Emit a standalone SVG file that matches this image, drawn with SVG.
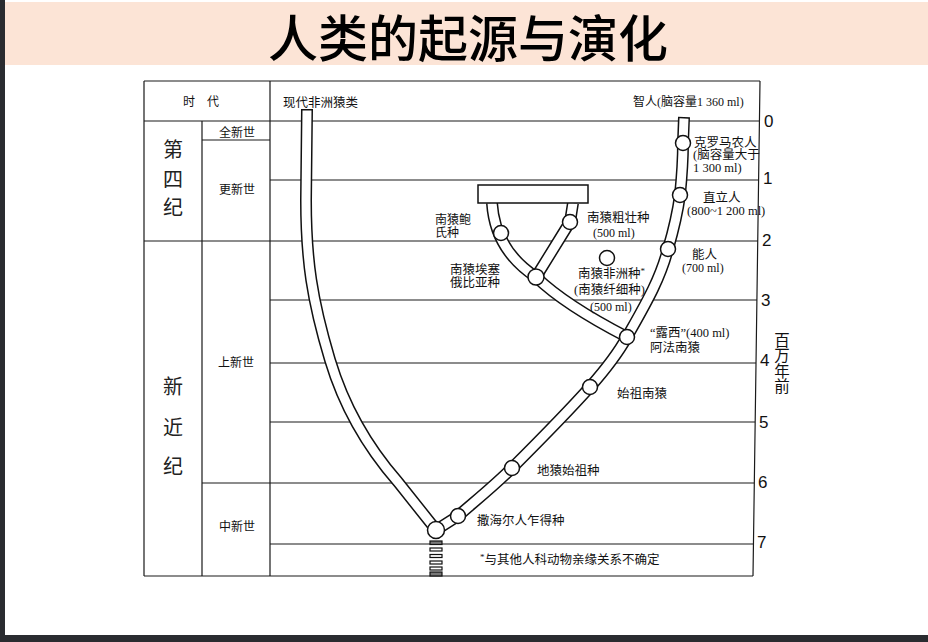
<svg xmlns="http://www.w3.org/2000/svg" width="928" height="642" viewBox="0 0 928 642">
<style>
.g{stroke:#1a1a1a;stroke-width:1.2;fill:none}
.to{fill:none;stroke:#111;stroke-width:12;stroke-linejoin:round}
.ti{fill:none;stroke:#fff;stroke-width:9;stroke-linejoin:round}
.c{fill:#fff;stroke:#111;stroke-width:1.5}
.t{font-family:"Liberation Serif","Noto Sans CJK SC",serif;font-size:12.5px;fill:#111}
.s{font-size:12px}
.b{font-family:"Noto Sans CJK SC",sans-serif;font-size:20px;fill:#222;text-anchor:middle}
.n{font-family:"Liberation Sans",Arial,sans-serif;font-size:17px;fill:#111}
</style>
<rect x="0" y="0" width="928" height="642" fill="#fff"/>
<rect x="0" y="2" width="928" height="63" fill="#fce4d6"/>
<rect x="0" y="0" width="5" height="642" fill="#2a2c30"/>
<rect x="0" y="635" width="928" height="7" fill="#2a2c30"/>
<text x="468" y="57" font-family="Noto Sans CJK SC,sans-serif" font-size="50" font-weight="500" text-anchor="middle" fill="#000">人类的起源与演化</text>

<g id="grid">
<path class="g" d="M144,81H760 M144,81V576 M270,81V576 M202,121V576 M144,121H759.4 M202,140H270 M270,180H758.6 M144,241H757.7 M270,300H756.9 M270,363H756 M270,422H755.2 M202,483H754.3 M270,544H753.5 M144,576H753 M760,81L753,576"/>
</g>

<g id="axis">
<text class="n" x="764" y="127">0</text>
<text class="n" x="763" y="184">1</text>
<text class="n" x="762" y="246">2</text>
<text class="n" x="761" y="306">3</text>
<text class="n" x="760" y="366">4</text>
<text class="n" x="759" y="428">5</text>
<text class="n" x="758" y="488">6</text>
<text class="n" x="757" y="548">7</text>
<text x="782" y="332" writing-mode="vertical-rl" font-family="Noto Sans CJK SC,sans-serif" font-size="15.5" fill="#111">百万年前</text>
</g>

<g id="table-labels">
<text class="t s" x="183" y="106">时<tspan x="207">代</tspan></text>
<text class="t s" x="219" y="137">全新世</text>
<text class="t s" x="219" y="194">更新世</text>
<text class="t s" x="218" y="367">上新世</text>
<text class="t s" x="219" y="531">中新世</text>
<text class="b" x="173" y="157">第</text>
<text class="b" x="173" y="187">四</text>
<text class="b" x="173" y="215">纪</text>
<text class="b" x="173" y="394">新</text>
<text class="b" x="173" y="435">近</text>
<text class="b" x="173" y="474">纪</text>
</g>

<g id="connectors">
<g id="ape-branch">
<path class="to" d="M307,109 L306,200 C306,260 312,300 330,360 C345,410 370,450 398,482 L433,526"/>
<path class="ti" d="M307,110.5 L306,200 C306,260 312,300 330,360 C345,410 370,450 398,482 L433,526"/>
</g>
<g id="human-branch">
<path class="to" d="M436,530 L458,516 C480,497 495,485 512,468 C540,440 565,415 590,387 C605,370 617,355 627,337 C645,305 660,280 668,249 C675,225 678,210 680,195 C682,175 683,160 683,143 L684,117"/>
<path class="ti" d="M436,530 L458,516 C480,497 495,485 512,468 C540,440 565,415 590,387 C605,370 617,355 627,337 C645,305 660,280 668,249 C675,225 678,210 680,195 C682,175 683,160 683,143 L684,118.5"/>
</g>
<g id="robust-branch">
<path class="to" d="M492,203 Q495,250 536,277 Q565,305 627,337 M573,203 L570,222 L536,277"/>
<path class="ti" d="M492,203 Q495,250 536,277 Q565,305 627,337 M573,203 L570,222 L536,277"/>
</g>
<g id="base-bars" fill="#fff" stroke="#111" stroke-width="1.2">
<rect x="430" y="541" width="12" height="3.5" fill="#777"/>
<rect x="430" y="548" width="12" height="3"/>
<rect x="430" y="554.5" width="12" height="3"/>
<rect x="430" y="561" width="12" height="3"/>
<rect x="430" y="567" width="12" height="3"/>
<rect x="430" y="572" width="12" height="4" fill="#777"/>
</g>
</g>

<g id="node-box"><rect x="478" y="185" width="110" height="18" fill="#fff" stroke="#111" stroke-width="1.5"/></g>

<g id="node-common"><circle class="c" cx="436" cy="530" r="8.5"/></g>
<g id="node-sahel"><circle class="c" cx="458" cy="516" r="7.5"/><text class="t" x="477" y="524.5">撒海尔人乍得种</text></g>
<g id="node-ardi"><circle class="c" cx="512" cy="468" r="7.5"/><text class="t" x="537" y="474.5" font-size="13">地猿始祖种</text></g>
<g id="node-anamensis"><circle class="c" cx="590" cy="387" r="7.5"/><text class="t" x="617" y="397.5">始祖南猿</text></g>
<g id="node-afarensis"><circle class="c" cx="627" cy="337" r="7.5"/><text class="t" x="650" y="336.5">“露西”(400 ml)</text><text class="t" x="650" y="351.5">阿法南猿</text></g>
<g id="node-habilis"><circle class="c" cx="668" cy="249" r="7.5"/><text class="t" x="692" y="258.5">能人</text><text class="t s" x="682" y="271.5">(700 ml)</text></g>
<g id="node-erectus"><circle class="c" cx="680" cy="195" r="7.5"/><text class="t" x="703" y="202">直立人</text><text class="t" x="687" y="215" font-size="11">(800~1 200 ml)</text></g>
<g id="node-cromagnon"><circle class="c" cx="683" cy="143" r="7.5"/><text class="t" x="694" y="146.5">克罗马农人</text><text class="t" x="693" y="159">(脑容量大于</text><text class="t" x="693" y="171.5">1 300 ml)</text></g>
<g id="node-sapiens"><text class="t s" x="633" y="106">智人(脑容量1 360 ml)</text></g>
<g id="node-apes"><text class="t" x="283" y="106.5">现代非洲猿类</text></g>
<g id="node-boisei"><circle class="c" cx="501" cy="233" r="7.5"/><text class="t s" x="435" y="224">南猿鲍</text><text class="t s" x="435" y="236.5">氏种</text></g>
<g id="node-robustus"><circle class="c" cx="570" cy="222" r="7.5"/><text class="t" x="587" y="222">南猿粗壮种</text><text class="t s" x="593" y="237">(500 ml)</text></g>
<g id="node-aethiopicus"><circle class="c" cx="536" cy="277" r="8"/><text class="t" x="450" y="273.5" font-size="13">南猿埃塞</text><text class="t" x="450" y="286.5" font-size="13">俄比亚种</text></g>
<g id="node-africanus"><circle class="c" cx="607" cy="258" r="7.5"/><text class="t" x="578" y="277.5">南猿非洲种<tspan font-size="9" dy="-4">*</tspan></text><text class="t" x="574" y="293.5">(南猿纤细种)</text><text class="t s" x="590" y="310.5">(500 ml)</text></g>
<g id="note"><text class="t" x="480" y="564"><tspan font-size="9" dy="-4">*</tspan><tspan dy="4">与其他人科动物亲缘关系不确定</tspan></text></g>
</svg>
